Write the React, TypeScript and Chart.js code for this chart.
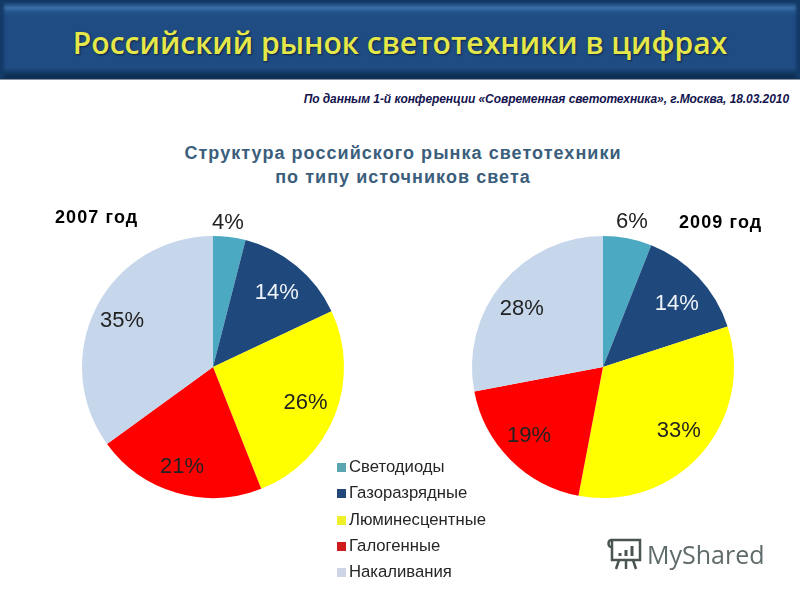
import React, { useEffect, useRef } from "react";
import { Chart, registerables } from "chart.js";

Chart.register(...registerables);

const categories = ["Светодиоды", "Газоразрядные", "Люминесцентные", "Галогенные", "Накаливания"];
const colors = ["#4BA9C2", "#1F497D", "#FFFF00", "#FF0000", "#C6D6EB"];
const legendColors = ["#5BA5B0", "#24477A", "#F0F02A", "#D01C1C", "#CDD5E6"];
const labelColors = ["#222222", "#EEF3F9", "#222222", "#222222", "#222222"];
const values2007 = [4, 14, 26, 21, 35];
const values2009 = [6, 14, 33, 19, 28];
const labelRadius2007 = [145, 98, 99, 105, 102];
const labelRadius2009 = [148, 97, 99, 101, 100];
const labelTurn2007 = [-1.3, 1, -0.6, 1, 0];
const labelTurn2009 = [0.5, 2.8, -1.4, 2, -4];

const pctLabels = {
  id: "pctLabels",
  afterDatasetsDraw(chart: any) {
    const { ctx } = chart;
    const radii: number[] = chart.options.plugins.pctLabels.radii;
    const turns: number[] = chart.options.plugins.pctLabels.turns;
    const meta = chart.getDatasetMeta(0);
    ctx.save();
    ctx.font = '22px "Liberation Sans", Arial, sans-serif';
    ctx.textAlign = "center";
    ctx.textBaseline = "middle";
    meta.data.forEach((arc: any, i: number) => {
      const mid = (arc.startAngle + arc.endAngle) / 2 + (turns[i] * Math.PI) / 180;
      const x = arc.x + Math.cos(mid) * radii[i];
      const y = arc.y + Math.sin(mid) * radii[i];
      ctx.fillStyle = labelColors[i];
      ctx.fillText(chart.data.datasets[0].data[i] + "%", x, y);
    });
    ctx.restore();
  },
};

function Pie({ values, radii, turns, left }: { values: number[]; radii: number[]; turns: number[]; left: number }) {
  const ref = useRef<HTMLCanvasElement>(null);
  useEffect(() => {
    const chart = new Chart(ref.current!, {
      type: "pie",
      data: {
        labels: categories,
        datasets: [{ data: values, backgroundColor: colors, borderWidth: 0, radius: 131 }],
      },
      options: {
        animation: false,
        responsive: false,
        layout: { padding: 0 },
        plugins: { legend: { display: false }, tooltip: { enabled: false }, pctLabels: { radii, turns } } as any,
      },
      plugins: [pctLabels],
    });
    return () => chart.destroy();
  }, []);
  return (
    <canvas
      ref={ref}
      width={340}
      height={340}
      style={{ position: "absolute", left, top: 197, width: 340, height: 340 }}
    />
  );
}

const sans = '"Liberation Sans", Arial, sans-serif';

export default function App() {
  useEffect(() => {
    document.body.style.margin = "0";
    document.body.style.background = "#fff";
  }, []);
  return (
    <div style={{ position: "relative", width: 800, height: 600, overflow: "hidden", background: "#fff", fontFamily: sans }}>
      <div
        style={{
          position: "absolute",
          left: 0,
          top: 0,
          width: 800,
          height: 80,
          boxSizing: "border-box",
          background: "linear-gradient(180deg,#123258 0,#1A4474 3px,#3A6FA8 8px,#24548C 12px,#1F4C82 18px,#1F4C82 68px,#123863 73px,#0C2848 79px)",
          boxShadow: "inset 4px 0 3px #143A68, inset -4px 0 3px #143A68",
          borderBottom: "1px solid #8A949E",
        }}
      />
      <div
        style={{
          position: "absolute",
          left: 0,
          width: 800,
          top: 17,
          textAlign: "center",
          fontFamily: '"Open Sans", sans-serif',
          fontWeight: 600,
          fontSize: 31.5,
          lineHeight: "50px",
          color: "#E6E84A",
          whiteSpace: "nowrap",
          textShadow: "1px 1px 2px #0C2340",
          transform: "scaleX(0.955)",
        }}
      >
        Российский рынок светотехники в цифрах
      </div>
      <div
        style={{
          position: "absolute",
          right: 11,
          top: 91,
          fontSize: 12,
          lineHeight: "16px",
          fontWeight: "bold",
          fontStyle: "italic",
          color: "#14144E",
          whiteSpace: "nowrap",
          letterSpacing: -0.07,
        }}
      >
        По данным 1-й конференции «Современная светотехника», г.Москва, 18.03.2010
      </div>
      <div
        style={{
          position: "absolute",
          left: 103,
          width: 600,
          top: 141,
          textAlign: "center",
          fontSize: 18,
          lineHeight: "24px",
          fontWeight: "bold",
          color: "#3A5E7C",
          letterSpacing: 1.05,
        }}
      >
        Структура российского рынка светотехники
        <br />
        по типу источников света
      </div>
      <Pie values={values2007} radii={labelRadius2007} turns={labelTurn2007} left={43} />
      <Pie values={values2009} radii={labelRadius2009} turns={labelTurn2009} left={433} />
      <div style={{ position: "absolute", left: 55, top: 206, fontSize: 18, letterSpacing: 1.1, lineHeight: "22px", fontWeight: "bold", color: "#000" }}>2007 год</div>
      <div style={{ position: "absolute", left: 679, top: 211, fontSize: 18, letterSpacing: 1.1, lineHeight: "22px", fontWeight: "bold", color: "#000" }}>2009 год</div>
      {categories.map((c, i) => (
        <div key={c} style={{ position: "absolute", left: 337, top: 456 + i * 26.3, height: 20, whiteSpace: "nowrap" }}>
          <span style={{ position: "absolute", left: 0, top: 7, width: 9, height: 9, background: legendColors[i] }} />
          <span style={{ position: "absolute", left: 12, top: 0, fontSize: 16.7, lineHeight: "22px", color: "#262626" }}>{c}</span>
        </div>
      ))}
      <div style={{ position: "absolute", left: 647, top: 536, fontFamily: '"Open Sans", sans-serif', fontSize: 25, lineHeight: "36px", color: "#5F6A6A", whiteSpace: "nowrap" }}>
        MyShared
      </div>
      <svg style={{ position: "absolute", left: 607, top: 537 }} width="36" height="34" viewBox="0 0 36 34" fill="none" stroke="#4A5550" strokeWidth="2.5">
        <rect x="5" y="3" width="28" height="20" />
        <path d="M5 3 C0 3 1 10 4 10" />
        <path d="M12 23 L9 32 M19 23 V32 M26 23 L29 32" />
        <path d="M13 19 V16 M19 19 V13 M25 19 V9" strokeWidth="3" />
      </svg>
    </div>
  );
}
